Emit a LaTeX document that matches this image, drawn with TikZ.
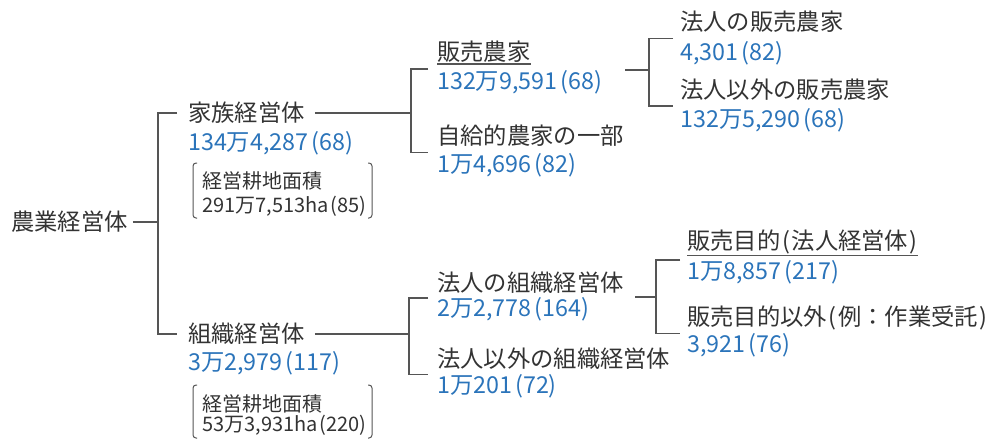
\documentclass[tikz,border=0pt]{standalone}
\usepackage{fontspec}
\setmainfont{Noto Sans CJK JP}
\usetikzlibrary{calc}
\definecolor{numblue}{HTML}{2B74BA}
\definecolor{txt}{HTML}{333333}
\definecolor{lnc}{HTML}{555555}
\newcommand{\pgap}{\kern3pt}
\newcommand{\lp}{\kern2pt(\kern1.5pt}
\newcommand{\rp}{\kern1.5pt)}
\begin{document}
\begin{tikzpicture}[x=1pt,y=-1pt,
 lab/.style={anchor=west,inner sep=0pt,text=txt,font=\fontsize{23.3}{26}\selectfont},
 num/.style={anchor=west,inner sep=0pt,text=numblue,font=\fontsize{23.3}{26}\selectfont},
 sm/.style={anchor=west,inner sep=0pt,text=txt,font=\fontsize{20}{22}\selectfont},
 conn/.style={draw=lnc,line width=1.1pt},
 brk/.style={draw=lnc,line width=1pt,rounded corners=3pt}]
\useasboundingbox (0,0) rectangle (991,439);
% nodes
\node[lab] (nogyo) at (11,222) {農業経営体};
\node[lab] (kazoku) at (188,113) {家族経営体};
\node[num] (kazokuN) at (188,143) {134万4,287\pgap(68)};
\node[sm] (kArea) at (202,181) {経営耕地面積};
\node[sm] (kAreaN) at (202,206) {291万7,513ha\kern1.5pt(85)};
\node[lab] (soshiki) at (188,334) {組織経営体};
\node[num] (soshikiN) at (188,363) {3万2,979\pgap(117)};
\node[sm] (sArea) at (202,404) {経営耕地面積};
\node[sm] (sAreaN) at (202,425) {53万3,931ha\kern1.5pt(220)};
\node[lab] (hanbai) at (437,52) {販売農家};
\node[num] (hanbaiN) at (437,82) {132万9,591\pgap(68)};
\node[lab] (jikyu) at (437,136) {自給的農家の一部};
\node[num] (jikyuN) at (437,165) {1万4,696\pgap(82)};
\node[lab] (hojinH) at (680,22) {法人の販売農家};
\node[num] (hojinHN) at (680,53) {4,301\pgap(82)};
\node[lab] (igaiH) at (680,90) {法人以外の販売農家};
\node[num] (igaiHN) at (680,120) {132万5,290\pgap(68)};
\node[lab] (hojinS) at (437,283) {法人の組織経営体};
\node[num] (hojinSN) at (437,309) {2万2,778\pgap(164)};
\node[lab] (igaiS) at (437,359) {法人以外の組織経営体};
\node[num] (igaiSN) at (437,386) {1万201\pgap(72)};
\node[lab] (mokuteki) at (687,242) {販売目的\lp 法人経営体\rp};
\node[num] (mokutekiN) at (687,272) {1万8,857\pgap(217)};
\node[lab] (mokIgai) at (687,318) {販売目的以外\lp 例：作業受託\rp};
\node[num] (mokIgaiN) at (687,345) {3,921\pgap(76)};
% underlines
\draw[conn] ([yshift=-1pt]hanbai.south west) -- ([yshift=-1pt]hanbai.south east);
\draw[conn] ([yshift=-1pt]mokuteki.south west) -- ([yshift=-1pt]mokuteki.south east);
% level 1
\coordinate (j0) at (158,222);
\draw[conn] ([xshift=5pt]nogyo.east) -- (j0);
\draw[conn] ([xshift=-11pt]kazoku.west) -| (j0) |- ([xshift=-11pt]soshiki.west);
% family branch
\coordinate (j1) at (411,113);
\draw[conn] ([xshift=10pt]kazoku.east) -- (j1);
\draw[conn] ($(hanbai.west)!.5!(hanbaiN.west)+(-9,2)$) -| (j1) |- ($(jikyu.west)!.5!(jikyuN.west)+(-9,2)$);
\coordinate (a1s) at (625,70);
\coordinate (a1) at (649,70);
\draw[conn] (a1s) -- (a1);
\draw[conn] ($(hojinH.west)!.5!(hojinHN.west)+(-7,1)$) -| (a1) |- ($(igaiH.west)!.5!(igaiHN.west)+(-7,1)$);
% organisation branch
\coordinate (j3) at (409,334);
\draw[conn] ([xshift=10pt]soshiki.east) -- (j3);
\draw[conn] ($(hojinS.west)!.5!(hojinSN.west)+(-9,2)$) -| (j3) |- ($(igaiS.west)!.5!(igaiSN.west)+(-9,2)$);
\coordinate (a2s) at (635,297);
\coordinate (a2) at (656,297);
\draw[conn] (a2s) -- (a2);
\draw[conn] ($(mokuteki.west)!.5!(mokutekiN.west)+(-7,3)$) -| (a2) |- ($(mokIgai.west)!.5!(mokIgaiN.west)+(-7,2)$);
% area brackets
\draw[brk] (197,163) -- (193,163) -- (193,218) -- (197,218);
\draw[brk] (368,163) -- (372,163) -- (372,218) -- (368,218);
\draw[brk] (197,385) -- (193,385) -- (193,438) -- (197,438);
\draw[brk] (368,385) -- (372,385) -- (372,438) -- (368,438);
\end{tikzpicture}
\end{document}
